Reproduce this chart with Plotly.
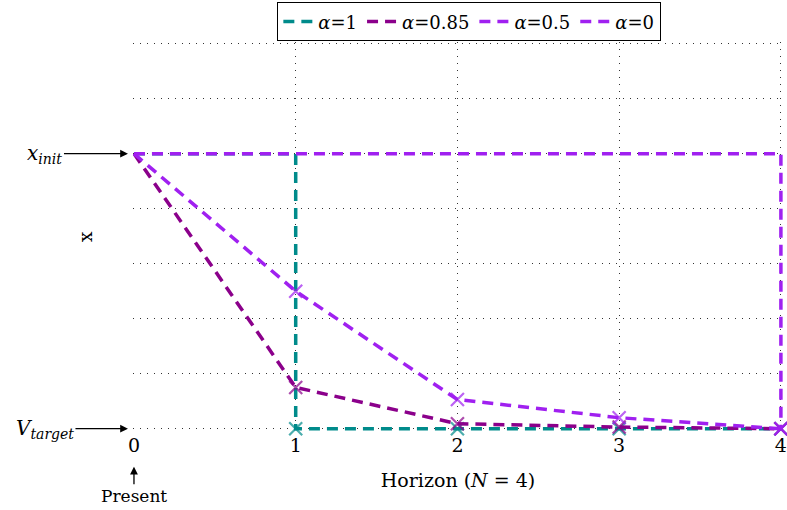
import plotly.graph_objects as go

horizon = [0, 1, 2, 3, 4]
tick_labels = ["0", "1", "2", "3", "4"]

# alpha = 1 : step to target at k=1
a1_x = [0, 1, 1, 2, 3, 4]
a1_y = [5, 5, 0, 0, 0, 0]
a1_mark = [False, False, True, True, True, True]

a085_x = [0, 1, 2, 3, 4]
a085_y = [5, 0.75, 0.09, 0.03, 0.0]
a085_mark = [False, True, True, True, True]

a05_x = [0, 1, 2, 3, 4]
a05_y = [5, 2.5, 0.53, 0.2, 0.0]
a05_mark = [False, True, True, True, True]

a0_x = [0, 4, 4]
a0_y = [5, 5, 0]
a0_mark = [False, False, True]

series = [
    ("<i>α</i>=1", a1_x, a1_y, a1_mark, "#008B8B"),
    ("<i>α</i>=0.85", a085_x, a085_y, a085_mark, "#8B008B"),
    ("<i>α</i>=0.5", a05_x, a05_y, a05_mark, "#A020F0"),
    ("<i>α</i>=0", a0_x, a0_y, a0_mark, "#A020F0"),
]

FONT = "DejaVu Serif, Liberation Serif, serif"
DASH = "11px,7px"

fig = go.Figure()
for name, xs, ys, marks, col in series:
    fig.add_trace(go.Scatter(
        x=xs, y=ys, name=name, mode="lines+markers", showlegend=False,
        line=dict(color=col, width=3.5, dash=DASH),
        marker=dict(symbol="x-thin", size=[13 if m else 0 for m in marks],
                    line=dict(color=col, width=2.2), color=col),
        cliponaxis=False,
    ))
for name, xs, ys, marks, col in series:
    fig.add_trace(go.Scatter(
        x=[None], y=[None], name=name, mode="lines", showlegend=True,
        line=dict(color=col, width=3.5, dash=DASH),
    ))

fig.update_layout(
    width=787, height=510,
    margin=dict(l=133, r=0, t=42, b=78),
    plot_bgcolor="white", paper_bgcolor="white",
    font=dict(family=FONT, size=18, color="black"),
    showlegend=True,
    legend=dict(orientation="h", x=0.517, xanchor="center", y=1.1026, yanchor="top",
                bordercolor="black", borderwidth=1.3, font=dict(size=18),
                itemwidth=30, bgcolor="white", tracegroupgap=0),
    xaxis=dict(range=[-0.006, 4.013], tickvals=horizon, ticktext=tick_labels,
               showgrid=True, gridcolor="#333", griddash="1px,6px", gridwidth=1,
               zeroline=False, showline=False, ticks="",
               ticklabeloverflow="allow",
               tickfont=dict(size=19),
               title=dict(text="Horizon (<i>N</i> = 4)", standoff=18,
                          font=dict(size=19))),
    yaxis=dict(range=[-0.06, 7.03], tickvals=[0, 1, 2, 3, 4, 5, 6, 7], showticklabels=False,
               showgrid=True, gridcolor="#333", griddash="1px,6px", gridwidth=1,
               zeroline=False, showline=False, ticks="",
               title=dict(text="x", standoff=34, font=dict(size=19))),
)

ARROW = dict(showarrow=True, arrowhead=2, arrowsize=1.2, arrowwidth=1.3,
             arrowcolor="black")
fig.add_annotation(x=0, y=5, xref="x", yref="y", text="<i>x<sub>init</sub></i>",
                   ax=-89, ay=0, standoff=6, font=dict(size=20), **ARROW)
fig.add_annotation(x=0, y=0, xref="x", yref="y", text="<i>V<sub>target</sub></i>",
                   ax=-89, ay=0, standoff=6, font=dict(size=20), **ARROW)
fig.add_annotation(x=0, y=0, xref="x", yref="y", text="Present",
                   ax=0, ay=67, standoff=38, font=dict(size=17), **ARROW)

fig.write_html("out.html", config={"displayModeBar": False},
               post_script="document.body.style.margin='0';")
